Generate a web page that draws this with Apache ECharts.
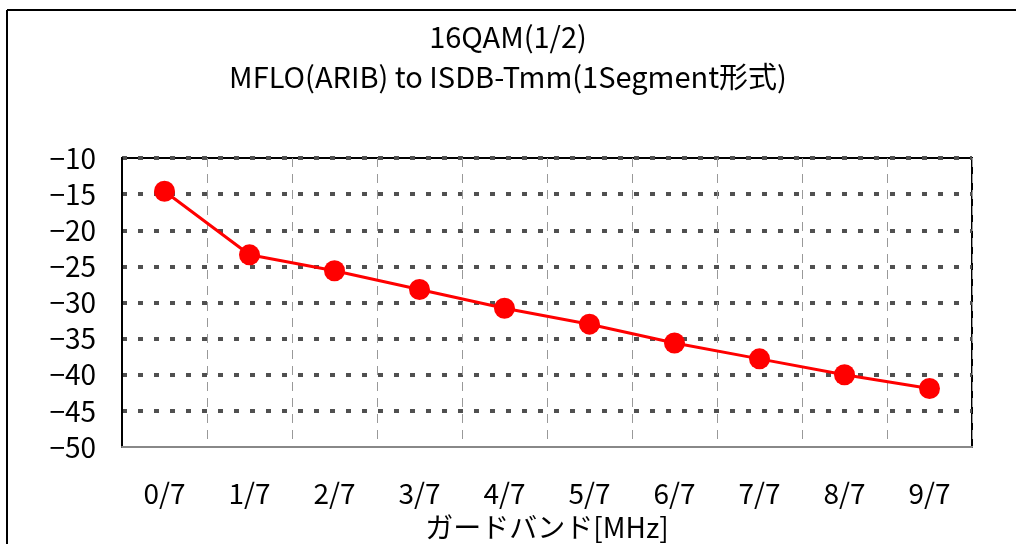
<!DOCTYPE html>
<html>
<head>
<meta charset="utf-8">
<script src="https://cdn.jsdelivr.net/npm/echarts@6/dist/echarts.min.js"></script>
<style>html,body{margin:0;padding:0;background:#fff}#c{width:1016px;height:544px}</style>
</head>
<body>
<div id="c"></div>
<script>
const categories = ['0/7','1/7','2/7','3/7','4/7','5/7','6/7','7/7','8/7','9/7'];
const values = [-14.6, -23.4, -25.6, -28.2, -30.8, -33.0, -35.6, -37.8, -40.0, -41.9];
const titleLines = ['16QAM(1/2)', 'MFLO(ARIB) to ISDB-Tmm(1Segment形式)'];
const xAxisName = 'ガードバンド[MHz]';
const yMin = -50, yMax = -10, yInterval = 5;

const FONT = '"Noto Sans CJK JP", "Noto Sans", sans-serif';
const chart = echarts.init(document.getElementById('c'), null, {renderer: 'canvas'});
chart.setOption({
  animation: false,
  backgroundColor: '#fff',
  title: {
    text: titleLines.join('\n'),
    left: 'center',
    top: 12,
    textStyle: {fontFamily: FONT, fontSize: 29, fontWeight: 'normal', color: '#000', lineHeight: 40}
  },
  graphic: [
    {type: 'line', shape: {x1: 7, y1: 10, x2: 1016, y2: 10}, style: {stroke: '#000', lineWidth: 2}},
    {type: 'line', shape: {x1: 7, y1: 10, x2: 7, y2: 544}, style: {stroke: '#000', lineWidth: 2}}
  ],
  grid: {left: 122, right: 44, top: 158, bottom: 97, outerBoundsMode: 'none', containLabel: false,
    show: true, borderColor: '#000', borderWidth: 2, backgroundColor: 'transparent'},
  xAxis: {
    type: 'category',
    data: categories,
    boundaryGap: true,
    name: xAxisName,
    nameLocation: 'middle',
    nameGap: 66,
    nameTextStyle: {fontFamily: FONT, fontSize: 28, color: '#000'},
    axisLine: {lineStyle: {color: '#888', width: 2}},
    axisTick: {show: false},
    axisLabel: {fontFamily: FONT, fontSize: 28, color: '#000', margin: 32},
    splitLine: {show: true, lineStyle: {color: '#999', type: [9, 7], width: 1}}
  },
  yAxis: {
    type: 'value',
    min: yMin, max: yMax, interval: yInterval,
    axisLine: {show: true, lineStyle: {color: '#000', width: 2}},
    axisTick: {show: false},
    axisLabel: {fontFamily: FONT, fontSize: 28, color: '#000', margin: 26,
      formatter: v => String(v).replace('-', '−')},
    splitLine: {show: true, showMinLine: false,
      lineStyle: {color: '#505050', type: [5, 11], width: 4, cap: 'butt'}}
  },
  series: [{
    type: 'line',
    data: values,
    symbol: 'circle',
    symbolSize: 21,
    itemStyle: {color: '#ff0000'},
    lineStyle: {color: '#ff0000', width: 3},
    z: 5
  }]
});
</script>
</body>
</html>
